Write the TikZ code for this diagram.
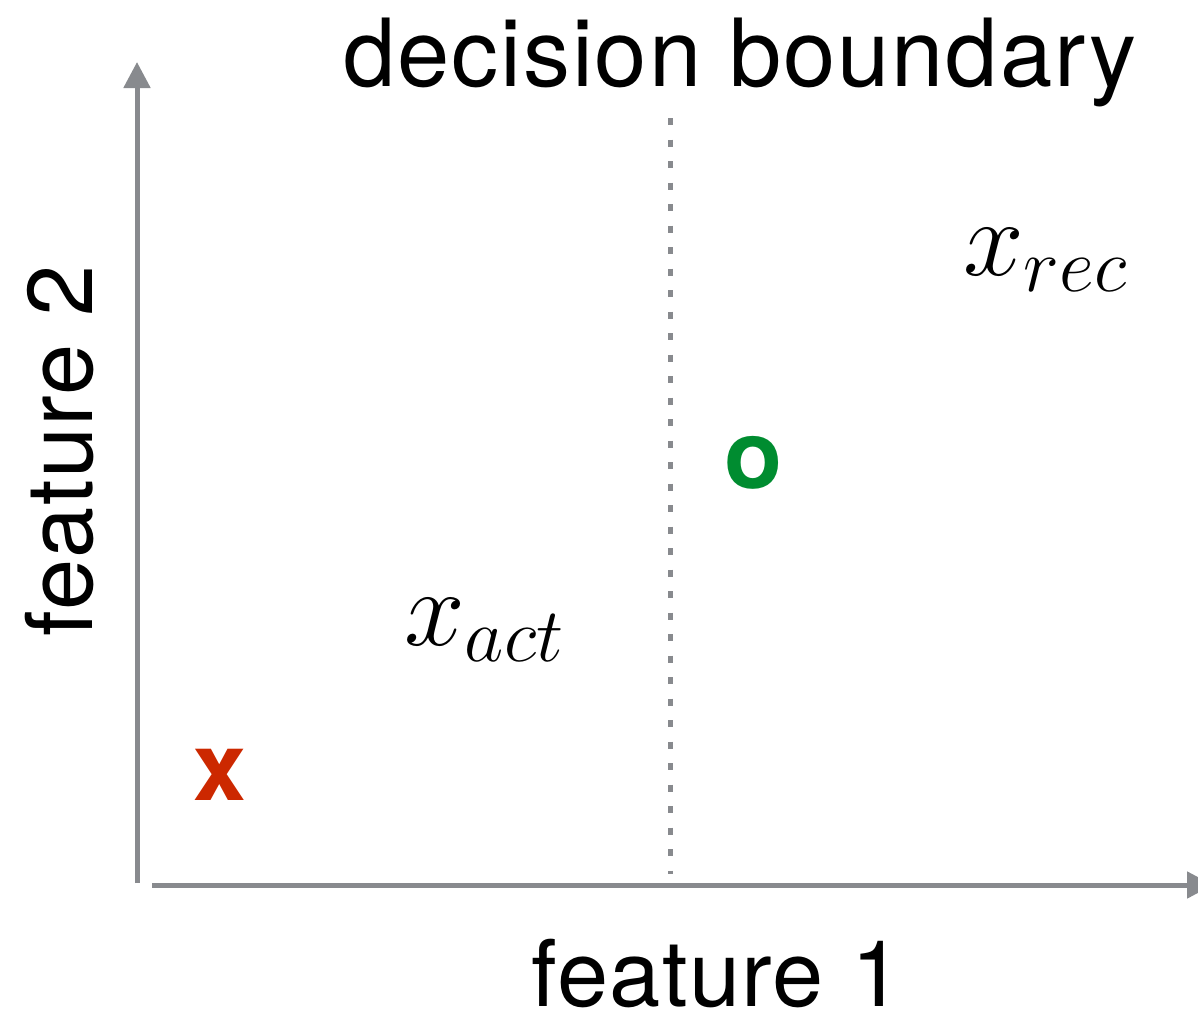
\RequirePackage{fix-cm}
\documentclass[tikz,border=0pt]{standalone}
\usepackage{fontspec}
\setmainfont{TeX Gyre Heros}
\usepackage{xcolor}
\usetikzlibrary{arrows.meta,positioning}
\definecolor{axisgray}{RGB}{136,138,142}
\definecolor{crossred}{RGB}{204,40,0}
\definecolor{circgreen}{RGB}{0,140,48}

\begin{document}
\begin{tikzpicture}[x=1pt,y=-1pt,
  axis/.style={draw=axisgray, line width=5pt, -{Triangle[length=26pt,width=26pt]}},
  boundary/.style={draw=axisgray, line width=5pt, dash pattern=on 7pt off 14.5pt},
  lbl/.style={anchor=base, inner sep=0pt, text depth=0pt,
    font=\fontsize{92}{100}\selectfont\addfontfeatures{LetterSpace=1.5}},
  ptmark/.style={anchor=base, inner sep=0pt, font=\fontsize{95}{100}\selectfont\bfseries},
  mathlbl/.style={anchor=base, inner sep=0pt, font=\fontsize{109}{120}\selectfont}]
  \useasboundingbox (0,0) rectangle (1198,1017);
  % axes
  \coordinate (ybot) at (137,883);
  \coordinate (ytop) at (137,62);
  \coordinate (xleft) at (152,885);
  \coordinate (xright) at (1213,885);
  \draw[axis] (ybot) -- (ytop);
  \draw[axis] (xleft) -- (xright);
  % boundary between the two classes
  \coordinate (btop) at (670,118);
  \coordinate (bbot) at (670,874);
  \draw[boundary] (btop) -- (bbot);
  % labels
  \node[lbl, font=\fontsize{94}{100}\selectfont\addfontfeatures{LetterSpace=2}] (title) at (740,86) {decision boundary};
  \node[lbl] (xlabel) at (717,1006) {feature 1};
  \node[lbl, rotate=90] (ylabel) at (92,451) {feature 2};
  % points
  \node[ptmark, text=crossred] (cross) at (220,800) {x};
  \node[ptmark, text=circgreen] (circ) at (754,488) {o};
  \node[mathlbl] (xact) at (484,645) {$x_{act}$};
  \node[mathlbl] (xrec) at (1045,275) {$x_{rec}$};
\end{tikzpicture}
\end{document}
